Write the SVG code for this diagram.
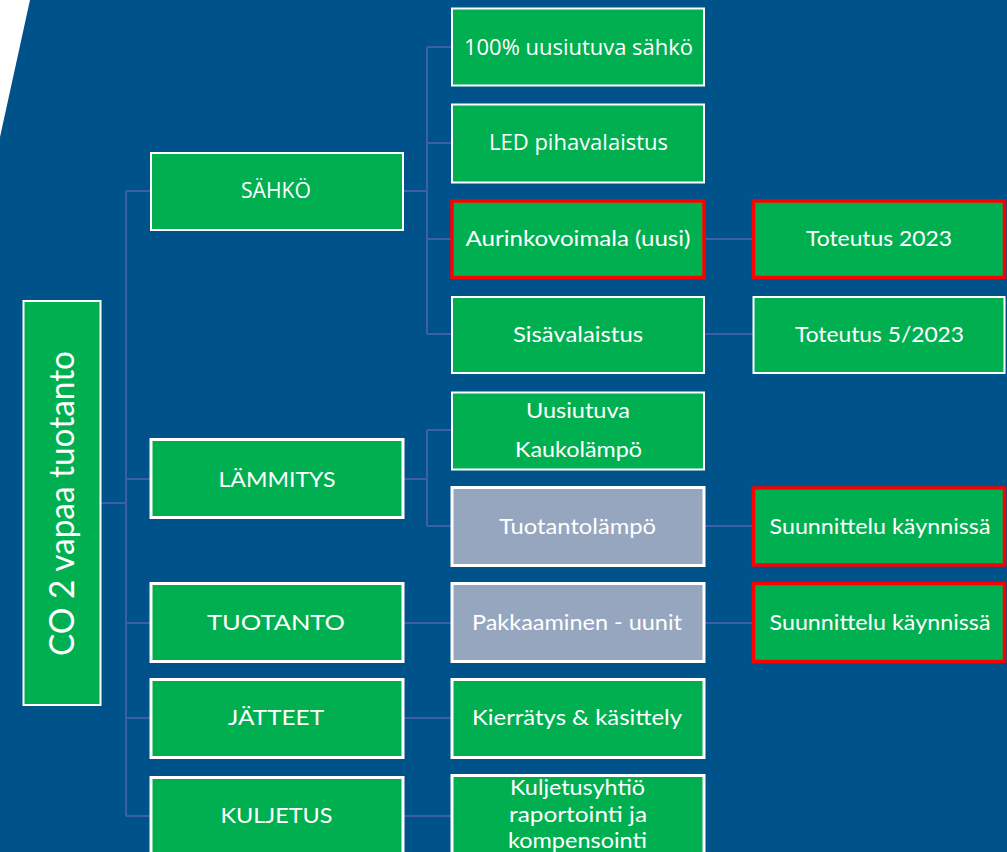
<svg xmlns="http://www.w3.org/2000/svg" width="1007" height="852" viewBox="0 0 1007 852">
<style>
.bg{fill:#00528A}
.g{fill:#00B050;stroke:#FFFFFF;stroke-width:2}
.gt{fill:#00B050;stroke:#FFFFFF;stroke-width:3}
.gr{fill:#97A6BF;stroke:#FFFFFF;stroke-width:3}
.rd{fill:#00B050;stroke:#FF0000;stroke-width:3.5}
.c{fill:none;stroke:#3D5EA9;stroke-width:2}
text{font-family:Lato,"Open Sans","Liberation Sans",sans-serif;fill:#FFFFFF;font-size:22px;text-anchor:middle}
.cal{font-family:"Open Sans",Lato,"Liberation Sans",sans-serif}
.big{font-size:35px}
.s21{font-size:21px}
</style>
<rect class="bg" x="0" y="0" width="1007" height="852"/>
<polygon points="0,0 30,0 0,137" fill="#FFFFFF"/>
<g id="connectors">
<path class="c" d="M101,503 H126 M126,191 V816 M126,191 H151 M126,479 H151 M126,623 H151 M126,718 H151 M126,816 H151"/>
<path class="c" d="M403,191 H427 M427,47 V334 M427,47 H452 M427,143 H452 M427,239 H452 M427,334 H452"/>
<path class="c" d="M403,479 H427 M427,430 V526 M427,430 H452 M427,526 H452"/>
<path class="c" d="M403,623 H452 M403,718 H452 M403,816 H452"/>
<path class="c" d="M705,239 H753 M705,334 H753 M705,526 H753 M705,623 H753"/>
</g>
<g id="root"><rect class="g" x="23.5" y="301" width="77" height="404"/><text class="big" transform="translate(74,503.5) rotate(-90)" textLength="305" lengthAdjust="spacingAndGlyphs">CO 2 vapaa tuotanto</text></g>
<g id="sahko"><rect class="g" x="151" y="153" width="252" height="77"/><text class="cal s21" x="276" y="198" textLength="70" lengthAdjust="spacingAndGlyphs">SÄHKÖ</text></g>
<g id="lammitys"><rect class="gt" x="151" y="439.5" width="252" height="78"/><text x="277" y="487" textLength="117" lengthAdjust="spacingAndGlyphs">LÄMMITYS</text></g>
<g id="tuotanto"><rect class="gt" x="151" y="583.5" width="252" height="78"/><text x="276" y="630" textLength="138" lengthAdjust="spacingAndGlyphs">TUOTANTO</text></g>
<g id="jatteet"><rect class="gt" x="151" y="679.5" width="252" height="78"/><text x="276" y="725" textLength="96" lengthAdjust="spacingAndGlyphs">JÄTTEET</text></g>
<g id="kuljetus"><rect class="gt" x="151" y="777.5" width="252" height="78"/><text x="276.5" y="823" textLength="112" lengthAdjust="spacingAndGlyphs">KULJETUS</text></g>
<g id="n100"><rect class="g" x="452" y="8.5" width="252" height="77"/><text class="cal" x="578.5" y="54.5" textLength="229" lengthAdjust="spacingAndGlyphs">100% uusiutuva sähkö</text></g>
<g id="led"><rect class="g" x="452" y="104.5" width="252" height="78"/><text class="cal" x="578.5" y="149.5" textLength="179" lengthAdjust="spacingAndGlyphs">LED pihavalaistus</text></g>
<g id="aurinko"><rect class="rd" x="452" y="201" width="252" height="76.5"/><text x="578" y="246" textLength="225" lengthAdjust="spacingAndGlyphs">Aurinkovoimala (uusi)</text></g>
<g id="sisa"><rect class="g" x="452" y="297" width="252" height="76"/><text x="578" y="342" textLength="130" lengthAdjust="spacingAndGlyphs">Sisävalaistus</text></g>
<g id="uusiutuva"><rect class="g" x="452" y="392.5" width="252" height="77"/><text x="578" y="417.5" textLength="104" lengthAdjust="spacingAndGlyphs">Uusiutuva</text><text x="578.5" y="457.3" textLength="127" lengthAdjust="spacingAndGlyphs">Kaukolämpö</text></g>
<g id="tuotantolampo"><rect class="gr" x="452" y="487.5" width="252" height="78"/><text x="577.5" y="534" textLength="157" lengthAdjust="spacingAndGlyphs">Tuotantolämpö</text></g>
<g id="pakkaaminen"><rect class="gr" x="452" y="583.5" width="252" height="78"/><text x="577" y="629.5" textLength="210" lengthAdjust="spacingAndGlyphs">Pakkaaminen - uunit</text></g>
<g id="kierratys"><rect class="gt" x="452" y="679.5" width="252" height="78"/><text x="577" y="725" textLength="210" lengthAdjust="spacingAndGlyphs">Kierrätys &amp; käsittely</text></g>
<g id="kuljetusyhtio"><rect class="gt" x="452" y="775.5" width="252" height="80"/><text x="577.5" y="795" textLength="135" lengthAdjust="spacingAndGlyphs">Kuljetusyhtiö</text><text x="578" y="821.5" textLength="138" lengthAdjust="spacingAndGlyphs">raportointi ja</text><text x="577.5" y="848" textLength="139" lengthAdjust="spacingAndGlyphs">kompensointi</text></g>
<g id="toteutus2023"><rect class="rd" x="753.5" y="201" width="251" height="76.5"/><text x="879" y="246" textLength="146" lengthAdjust="spacingAndGlyphs">Toteutus 2023</text></g>
<g id="toteutus52023"><rect class="g" x="753.5" y="297" width="251" height="76"/><text x="879.5" y="342" textLength="169" lengthAdjust="spacingAndGlyphs">Toteutus 5/2023</text></g>
<g id="suunnittelu1"><rect class="rd" x="753.5" y="488" width="251" height="77"/><text x="880" y="534" textLength="221" lengthAdjust="spacingAndGlyphs">Suunnittelu käynnissä</text></g>
<g id="suunnittelu2"><rect class="rd" x="753.5" y="583.5" width="251" height="78"/><text x="880" y="629.5" textLength="221" lengthAdjust="spacingAndGlyphs">Suunnittelu käynnissä</text></g>
</svg>
